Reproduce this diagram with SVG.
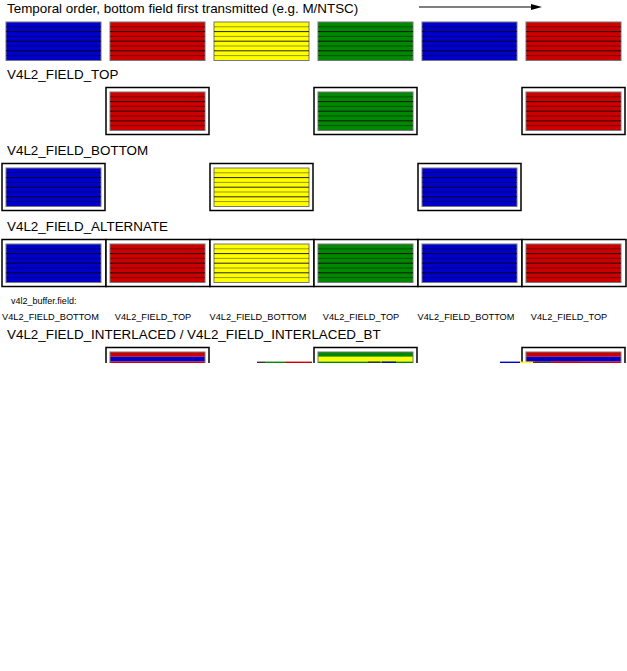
<svg xmlns="http://www.w3.org/2000/svg" width="627" height="671" viewBox="0 0 627 671">
<style>
text{font-family:"Liberation Sans",Arial,Helvetica,sans-serif;fill:#000}
.t{font-size:13.4px}
.s{font-size:9.2px}
.s2{font-size:9px}
.frame{fill:#fff;stroke:#000;stroke-width:1.5}
.f{stroke:#777;stroke-width:1}
.b{fill:#0000cc}.r{fill:#cc0000}.y{fill:#ffff00}.g{fill:#008800}
.l1{stroke:#000;stroke-opacity:.85;stroke-width:1}
.l2{stroke:#000;stroke-opacity:.4;stroke-width:1}
.conn{stroke:#000;stroke-width:1.2;fill:none}
</style>
<defs>
<g id="ln">
<line class="l2" x1="0" y1="4.8" x2="95" y2="4.8"/>
<line class="l1" x1="0" y1="9.6" x2="95" y2="9.6"/>
<line class="l2" x1="0" y1="14.4" x2="95" y2="14.4"/>
<line class="l1" x1="0" y1="19.2" x2="95" y2="19.2"/>
<line class="l2" x1="0" y1="24" x2="95" y2="24"/>
<line class="l1" x1="0" y1="28.8" x2="95" y2="28.8"/>
<line class="l2" x1="0" y1="33.6" x2="95" y2="33.6"/>
</g>
<marker id="ah" markerUnits="userSpaceOnUse" markerWidth="11" markerHeight="6" refX="0" refY="3" orient="auto">
<path d="M0,0 L11,3 L0,6 z" fill="#000"/>
</marker>
<clipPath id="cut"><rect x="0" y="0" width="627" height="363"/></clipPath>
</defs>

<text class="t" x="7" y="13">Temporal order, bottom field first transmitted (e.g. M/NTSC)</text>
<g id="connectors">
<line class="conn" x1="419" y1="7" x2="531" y2="7" marker-end="url(#ah)"/>
</g>

<g id="seq1"><rect class="f b" x="6" y="22" width="95" height="38.5"/><use href="#ln" x="6" y="22"/></g>
<g id="seq2"><rect class="f r" x="110" y="22" width="95" height="38.5"/><use href="#ln" x="110" y="22"/></g>
<g id="seq3"><rect class="f y" x="214" y="22" width="95" height="38.5"/><use href="#ln" x="214" y="22"/></g>
<g id="seq4"><rect class="f g" x="318" y="22" width="95" height="38.5"/><use href="#ln" x="318" y="22"/></g>
<g id="seq5"><rect class="f b" x="422" y="22" width="95" height="38.5"/><use href="#ln" x="422" y="22"/></g>
<g id="seq6"><rect class="f r" x="526" y="22" width="95" height="38.5"/><use href="#ln" x="526" y="22"/></g>

<text class="t" x="7" y="79">V4L2_FIELD_TOP</text>
<g id="top1"><rect class="frame" x="106" y="87.5" width="103" height="47"/><rect class="f r" x="110" y="92" width="95" height="38.5"/><use href="#ln" x="110" y="92"/></g>
<g id="top2"><rect class="frame" x="314" y="87.5" width="103" height="47"/><rect class="f g" x="318" y="92" width="95" height="38.5"/><use href="#ln" x="318" y="92"/></g>
<g id="top3"><rect class="frame" x="522" y="87.5" width="103" height="47"/><rect class="f r" x="526" y="92" width="95" height="38.5"/><use href="#ln" x="526" y="92"/></g>

<text class="t" x="7" y="155">V4L2_FIELD_BOTTOM</text>
<g id="bot1"><rect class="frame" x="2" y="163.5" width="103" height="47"/><rect class="f b" x="6" y="168" width="95" height="38.5"/><use href="#ln" x="6" y="168"/></g>
<g id="bot2"><rect class="frame" x="210" y="163.5" width="103" height="47"/><rect class="f y" x="214" y="168" width="95" height="38.5"/><use href="#ln" x="214" y="168"/></g>
<g id="bot3"><rect class="frame" x="418" y="163.5" width="103" height="47"/><rect class="f b" x="422" y="168" width="95" height="38.5"/><use href="#ln" x="422" y="168"/></g>

<text class="t" x="7" y="231">V4L2_FIELD_ALTERNATE</text>
<g id="alt1"><rect class="frame" x="2" y="239.5" width="104" height="47"/><rect class="f b" x="6" y="244" width="95" height="38.5"/><use href="#ln" x="6" y="244"/></g>
<g id="alt2"><rect class="frame" x="106" y="239.5" width="104" height="47"/><rect class="f r" x="110" y="244" width="95" height="38.5"/><use href="#ln" x="110" y="244"/></g>
<g id="alt3"><rect class="frame" x="210" y="239.5" width="104" height="47"/><rect class="f y" x="214" y="244" width="95" height="38.5"/><use href="#ln" x="214" y="244"/></g>
<g id="alt4"><rect class="frame" x="314" y="239.5" width="104" height="47"/><rect class="f g" x="318" y="244" width="95" height="38.5"/><use href="#ln" x="318" y="244"/></g>
<g id="alt5"><rect class="frame" x="418" y="239.5" width="104" height="47"/><rect class="f b" x="422" y="244" width="95" height="38.5"/><use href="#ln" x="422" y="244"/></g>
<g id="alt6"><rect class="frame" x="522" y="239.5" width="104" height="47"/><rect class="f r" x="526" y="244" width="95" height="38.5"/><use href="#ln" x="526" y="244"/></g>

<text class="s2" x="11" y="304">v4l2_buffer.field:</text>
<g text-anchor="middle">
<text class="s" x="50.5" y="320">V4L2_FIELD_BOTTOM</text>
<text class="s" x="153" y="320">V4L2_FIELD_TOP</text>
<text class="s" x="258" y="320">V4L2_FIELD_BOTTOM</text>
<text class="s" x="361" y="320">V4L2_FIELD_TOP</text>
<text class="s" x="466" y="320">V4L2_FIELD_BOTTOM</text>
<text class="s" x="569" y="320">V4L2_FIELD_TOP</text>
</g>

<text class="t" x="7" y="339">V4L2_FIELD_INTERLACED / V4L2_FIELD_INTERLACED_BT</text>
<g clip-path="url(#cut)">
<g id="int1"><rect class="frame" x="106" y="347.5" width="103" height="47"/><rect class="r" x="110" y="352" width="95" height="4.8"/><rect class="b" x="110" y="356.8" width="95" height="4.8"/><rect class="r" x="110" y="361.6" width="95" height="4.8"/><rect x="110" y="352" width="95" height="40" fill="none" stroke="#777" stroke-width="1"/></g>
<g id="int2"><rect class="frame" x="314" y="347.5" width="103" height="47"/><rect class="g" x="318" y="352" width="95" height="4.8"/><rect class="y" x="318" y="356.8" width="95" height="4.8"/><rect class="g" x="318" y="361.6" width="95" height="4.8"/><rect x="318" y="352" width="95" height="40" fill="none" stroke="#777" stroke-width="1"/></g>
<g id="int3"><rect class="frame" x="522" y="347.5" width="103" height="47"/><rect class="r" x="526" y="352" width="95" height="4.8"/><rect class="b" x="526" y="356.8" width="95" height="4.8"/><rect class="r" x="526" y="361.6" width="95" height="4.8"/><rect x="526" y="352" width="95" height="40" fill="none" stroke="#777" stroke-width="1"/></g>
<g stroke-width="1.6">
<line x1="257" y1="362.4" x2="265" y2="362.4" stroke="#333"/>
<line x1="265" y1="362.4" x2="285" y2="362.4" stroke="#008800"/>
<line x1="285" y1="362.4" x2="312" y2="362.4" stroke="#cc0000"/>
<line x1="368" y1="362.4" x2="380" y2="362.4" stroke="#333"/>
<line x1="382" y1="362.4" x2="396" y2="362.4" stroke="#0000cc"/>
<line x1="500" y1="362.4" x2="520" y2="362.4" stroke="#0000cc"/>
<line x1="520" y1="362.4" x2="533" y2="362.4" stroke="#ffff00"/>
<line x1="535" y1="362.4" x2="551" y2="362.4" stroke="#333"/>
<line x1="552" y1="362.4" x2="580" y2="362.4" stroke="#cc0000"/>
</g>
</g>
</svg>
